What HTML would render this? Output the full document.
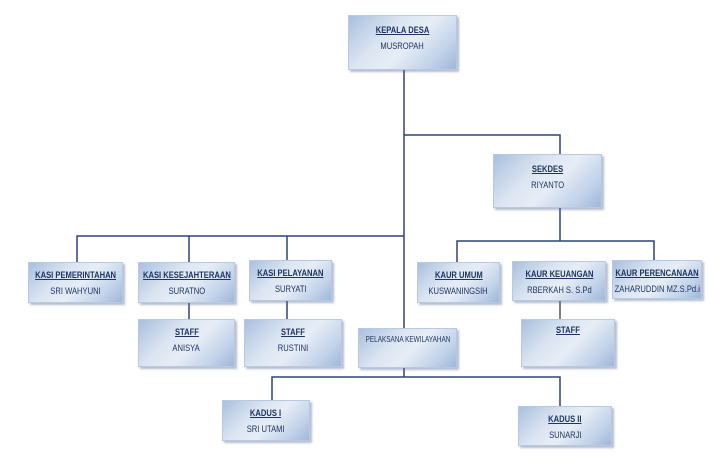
<!DOCTYPE html>
<html><head><meta charset="utf-8"><style>
html,body{margin:0;padding:0;background:#fff;}
body{width:710px;height:460px;position:relative;overflow:hidden;font-family:"Liberation Sans",sans-serif;}
.b{position:absolute;box-sizing:border-box;border:1px solid #b9c9e0;
background:linear-gradient(135deg,#a9bfdf 0%,#dbe5f2 35%,#e6edf6 55%,#c3d3ea 80%,#9fb7da 100%);
box-shadow:2px 2px 2px rgba(90,110,150,.45);color:#1f3560;text-align:center;font-size:9.5px;white-space:nowrap;}
.b div{margin-left:-30px;margin-right:-30px;}
.b span{display:inline-block;transform:scaleX(.8);}
.b .t{font-weight:bold;margin-top:7px;}
.b .t span{text-decoration:underline;}
.b .n{margin-top:5px;}
svg{position:absolute;left:0;top:0;}
</style></head><body>
<svg width="710" height="460">
<g stroke="#2f4374" stroke-width="1.5" fill="none">
<path d="M404 70 V328"/>
<path d="M404 135 H560 V154"/>
<path d="M560 208 V241"/>
<path d="M457 262 V241 H654 V260"/>
<path d="M560 301 V319" stroke="#555"/>
<path d="M77 262 V236 H404"/>
<path d="M189 236 V262"/>
<path d="M287 236 V260"/>
<path d="M189 303 V319"/>
<path d="M287 301 V319"/>
<path d="M404 368 V377"/>
<path d="M272 400 V377 H560 V406"/>
</g>
</svg>
<div class="b" style="left:348px;top:15px;width:109px;height:55px;"><div class="t" style="margin-top:9px"><span>KEPALA DESA</span></div><div class="n"><span>MUSROPAH</span></div></div>
<div class="b" style="left:493px;top:154px;width:109px;height:54px;"><div class="t" style="margin-top:9px"><span>SEKDES</span></div><div class="n"><span>RIYANTO</span></div></div>
<div class="b" style="left:28px;top:262px;width:95px;height:41px;"><div class="t"><span>KASI PEMERINTAHAN</span></div><div class="n"><span>SRI WAHYUNI</span></div></div>
<div class="b" style="left:138px;top:262px;width:97px;height:41px;"><div class="t"><span>KASI KESEJAHTERAAN</span></div><div class="n"><span>SURATNO</span></div></div>
<div class="b" style="left:249px;top:260px;width:83px;height:41px;"><div class="t"><span>KASI PELAYANAN</span></div><div class="n"><span>SURYATI</span></div></div>
<div class="b" style="left:138px;top:319px;width:97px;height:48px;"><div class="t"><span>STAFF</span></div><div class="n"><span>ANISYA</span></div></div>
<div class="b" style="left:244px;top:319px;width:98px;height:48px;"><div class="t"><span>STAFF</span></div><div class="n"><span>RUSTINI</span></div></div>
<div class="b" style="left:358px;top:328px;width:99px;height:40px;font-size:8px;"><div style="margin-top:6px"><span>PELAKSANA KEWILAYAHAN</span></div></div>
<div class="b" style="left:417px;top:262px;width:83px;height:41px;"><div class="t"><span>KAUR UMUM</span></div><div class="n"><span>KUSWANINGSIH</span></div></div>
<div class="b" style="left:512px;top:261px;width:94px;height:40px;"><div class="t"><span>KAUR KEUANGAN</span></div><div class="n"><span>RBERKAH S. S.Pd</span></div></div>
<div class="b" style="left:612px;top:260px;width:90px;height:39px;"><div class="t"><span>KAUR PERENCANAAN</span></div><div class="n"><span>ZAHARUDDIN MZ.S.Pd.i</span></div></div>
<div class="b" style="left:521px;top:319px;width:94px;height:48px;"><div class="t" style="margin-top:5px"><span>STAFF</span></div></div>
<div class="b" style="left:222px;top:400px;width:88px;height:41px;"><div class="t"><span>KADUS I</span></div><div class="n"><span>SRI UTAMI</span></div></div>
<div class="b" style="left:518px;top:406px;width:94px;height:40px;"><div class="t"><span>KADUS II</span></div><div class="n"><span>SUNARJI</span></div></div>
</body></html>
